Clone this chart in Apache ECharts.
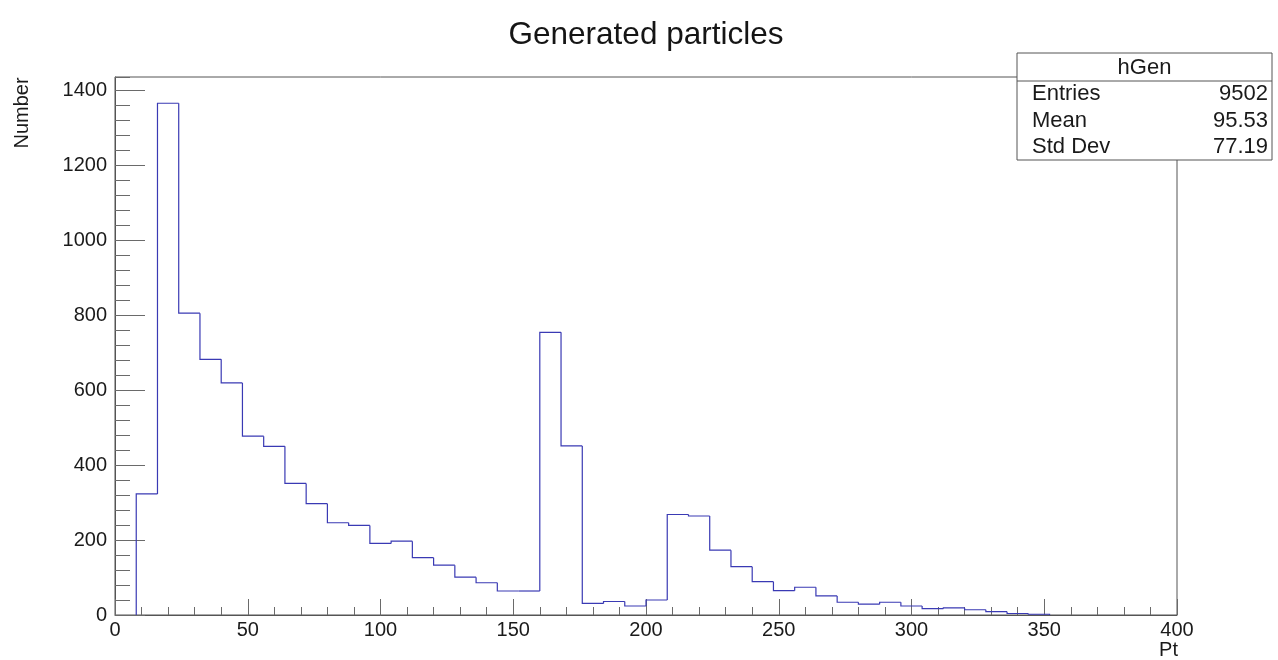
<!DOCTYPE html>
<html><head><meta charset="utf-8">
<script src="https://cdn.jsdelivr.net/npm/echarts@6/dist/echarts.min.js"></script>
<style>html,body{margin:0;padding:0;background:#fff}#c{width:1278px;height:660px}</style>
</head><body><div id="c"></div>
<script>
// ---- data ----
const chartTitle = 'Generated particles';
const xName = 'Pt';
const yName = 'Number';
const histName = 'hGen';
const xMin = 0, xMax = 400, binWidth = 8;
const counts = [
  0, 323, 1365, 805, 682, 619, 477, 450, 351, 297,
  246, 239, 191, 197, 153, 133, 101, 86, 64, 64,
  754, 451, 31, 36, 24, 40, 268, 264, 173, 129,
  89, 65, 74, 51, 34, 29, 34, 24, 17, 19,
  14, 9, 4, 2, 0, 0, 0, 0, 0, 0
];
const yMin = 0, yMax = 1435, yMajor = 200, yMinor = 40;
const xMajor = 50;
const statLabels = ['Entries', 'Mean', 'Std Dev'];
const statValues = ['9502', '95.53', '77.19'];

// ---- bins -> items for the outline (left edge, right edge, value, previous value, isLast) ----
let first = counts.findIndex(v => v > 0);
let last = counts.length - 1;
while (last > 0 && counts[last] === 0) last--;
const items = [];
for (let i = first; i <= last; i++) {
  items.push([xMin + i * binWidth, xMin + (i + 1) * binWidth, counts[i], i > 0 ? counts[i - 1] : 0, i === last ? 1 : 0]);
}

const FONT = 'Liberation Sans, Arial, Helvetica, sans-serif';
const axisCol = '#555';
const tickCol = '#6a6a6a';
const histCol = '#3a3ab4';

const chart = echarts.init(document.getElementById('c'), null, {renderer: 'canvas'});

const boxL = 1017, boxR = 1272, boxT = 53, boxSep = 81, boxB = 160;
const rowH = (boxB - boxSep) / statLabels.length;
const statEls = [];
statLabels.forEach((lab, i) => {
  const cy = boxSep + rowH * (i + 0.5);
  statEls.push({type: 'text', x: boxL + 15, y: cy, style: {text: lab, fontSize: 22, fontFamily: FONT, fill: '#1a1a1a', align: 'left', verticalAlign: 'middle'}});
  statEls.push({type: 'text', x: boxR - 4, y: cy, style: {text: statValues[i], fontSize: 22, fontFamily: FONT, fill: '#1a1a1a', align: 'right', verticalAlign: 'middle'}});
});

function renderBin(params, api) {
  const l = api.value(0), r = api.value(1), v = api.value(2), pv = api.value(3), isLast = api.value(4);
  const pts = [api.coord([l, pv]), api.coord([l, v]), api.coord([r, v])];
  if (isLast) pts.push(api.coord([r, 0]));
  return {type: 'polyline', shape: {points: pts}, style: {stroke: histCol, lineWidth: 1.2, fill: null}, silent: true};
}

chart.setOption({
  animation: false,
  backgroundColor: '#fff',
  title: {
    text: chartTitle, left: 641, top: 14, textAlign: 'center',
    textStyle: {fontSize: 31.5, fontWeight: 'normal', fontFamily: FONT, color: '#151515'}
  },
  grid: {left: 115, right: 101, top: 77, bottom: 45, show: true, borderColor: axisCol, borderWidth: 1, backgroundColor: 'transparent'},
  xAxis: [{
    type: 'value', min: xMin, max: xMax, interval: xMajor, position: 'bottom',
    axisLine: {show: true, lineStyle: {color: axisCol, width: 1}},
    axisTick: {show: true, inside: true, length: 16, lineStyle: {color: tickCol}},
    minorTick: {show: true, splitNumber: 5, length: 8, lineStyle: {color: tickCol}},
    axisLabel: {fontSize: 20, fontFamily: FONT, color: '#1a1a1a', margin: 5},
    splitLine: {show: false}
  }],
  yAxis: [{
    type: 'value', min: yMin, max: yMax, interval: yMajor, position: 'left',
    axisLine: {show: true, lineStyle: {color: axisCol, width: 1}},
    axisTick: {show: true, inside: true, length: 30, lineStyle: {color: tickCol}},
    axisLabel: {fontSize: 20, fontFamily: FONT, color: '#1a1a1a', margin: 8, showMaxLabel: false,
      formatter: v => (v % yMajor === 0 ? String(v) : '')},
    splitLine: {show: false}
  }, {
    type: 'value', min: yMin, max: yMax, interval: yMinor, position: 'left',
    axisLine: {show: false},
    axisTick: {show: true, inside: true, length: 15, lineStyle: {color: tickCol}},
    axisLabel: {show: false},
    splitLine: {show: false}
  }],
  series: [{
    name: histName, type: 'custom', renderItem: renderBin, data: items,
    xAxisIndex: 0, yAxisIndex: 0, clip: true,
    encode: {x: [0, 1], y: [2, 3]}
  }],
  graphic: [
    {type: 'text', x: 22, y: 113, rotation: Math.PI / 2, z: 100,
      style: {text: yName, fontSize: 20, fontFamily: FONT, fill: '#1a1a1a', align: 'center', verticalAlign: 'middle'}},
    {type: 'text', x: 1178, y: 650, z: 100,
      style: {text: xName, fontSize: 20, fontFamily: FONT, fill: '#1a1a1a', align: 'right', verticalAlign: 'middle'}},
    {type: 'group', z: 100, children: [
      {type: 'rect', shape: {x: boxL, y: boxT, width: boxR - boxL, height: boxB - boxT},
        style: {fill: '#fff', stroke: axisCol, lineWidth: 1}},
      {type: 'line', shape: {x1: boxL, y1: boxSep, x2: boxR, y2: boxSep}, style: {stroke: axisCol, lineWidth: 1}},
      {type: 'text', x: (boxL + boxR) / 2, y: (boxT + boxSep) / 2 + 1,
        style: {text: histName, fontSize: 22, fontFamily: FONT, fill: '#1a1a1a', align: 'center', verticalAlign: 'middle'}},
      ...statEls
    ]}
  ]
});
</script>
</body></html>
